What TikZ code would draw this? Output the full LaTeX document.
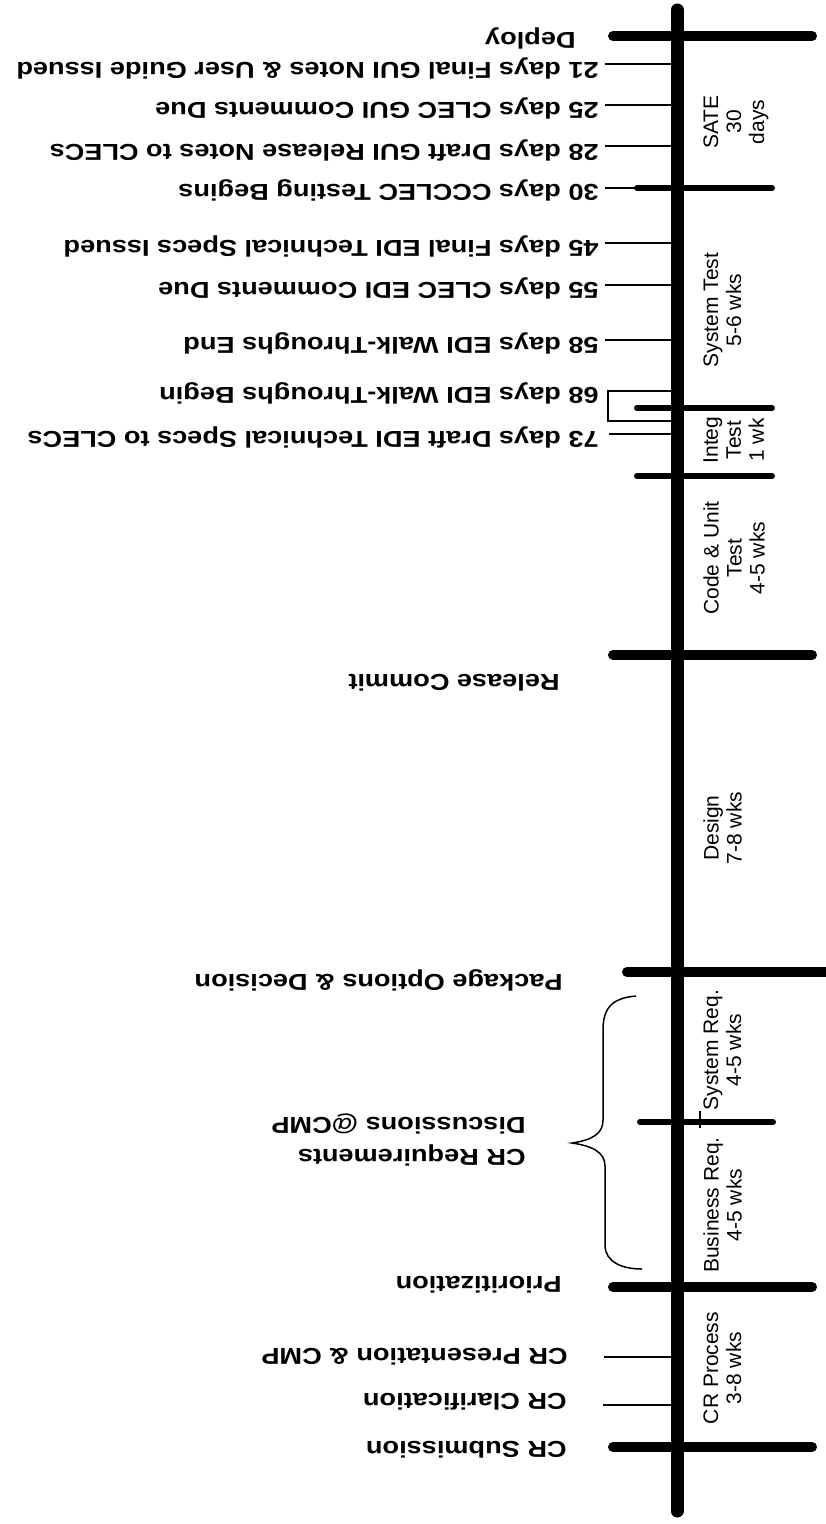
\documentclass[tikz,border=0pt]{standalone}
\usepackage{fontspec}
\setmainfont{Liberation Sans}
\newfontfamily\eventfont{Liberation Sans}[FakeStretch=1.18]
\tikzstyle{axis} = [line width=6.5pt, line cap=round]
\tikzstyle{bigtick} = [line width=5pt, line cap=round]
\tikzstyle{midtick} = [line width=3pt, line cap=round]
\tikzstyle{thintick} = [line width=0.75pt]
\tikzstyle{event} = [rotate=180, anchor=west, inner sep=0pt, align=left, font=\eventfont\bfseries\fontsize{11.5}{16}\selectfont]
\tikzstyle{phase} = [rotate=90, anchor=north, inner sep=0pt, align=center, font=\fontsize{10.5}{11.5}\selectfont]

\begin{document}
\begin{tikzpicture}[x=0.5pt, y=-0.5pt]
\useasboundingbox (0,0) rectangle (825,1524);

% time line
\coordinate (start) at (677,1511);
\coordinate (finish) at (677,10);
\draw[axis] (start) -- (finish);

% phase boundaries
\coordinate (deploy) at (677,36);
\coordinate (testbegin) at (677,188);
\coordinate (integend) at (677,408);
\coordinate (integstart) at (677,476);
\coordinate (release) at (677,655);
\coordinate (package) at (677,972);
\coordinate (sysreq) at (677,1122);
\coordinate (prio) at (677,1287);
\coordinate (submit) at (677,1447);
\draw[bigtick] (deploy) +(-64,0) -- +(135,0);
\draw[midtick] (testbegin) +(-40,0) -- +(95,0);
\draw[midtick] (integend) +(-40,0) -- +(95,0);
\draw[midtick] (integstart) +(-40,0) -- +(95,0);
\draw[bigtick] (release) +(-64,0) -- +(135,0);
\draw[bigtick] (package) +(-50,0) -- +(155,0);
\draw[midtick] (sysreq) +(-37,0) -- +(96,0);
\draw[bigtick] (prio) +(-64,0) -- +(135,0);
\draw[bigtick] (submit) +(-64,0) -- +(135,0);
\draw[thintick] (700,1111) -- (700,1128);

% milestone labels
\node[event] (deployLbl) at (576,38) {Deploy};
\node[event] (releaseLbl) at (560,683) {Release Commit};
\node[event] (packageLbl) at (563,980) {Package Options \& Decision};
\node[event] (crreqLbl) at (526,1140) {CR Requirements\\Discussions @CMP};
\node[event] (prioLbl) at (562,1285) {Prioritization};
\node[event] (submitLbl) at (567,1450) {CR Submission};

% CR steps
\coordinate (crpres) at (677,1357);
\coordinate (crclar) at (677,1405);
\node[event] (crpresLbl) at (568,1357) {CR Presentation \& CMP};
\node[event] (crclarLbl) at (567,1402) {CR Clarification};
\draw[thintick] (crpres) -- ([xshift=18pt]crpresLbl.west |- crpres);
\draw[thintick] (crclar) -- ([xshift=18pt]crclarLbl.west |- crclar);

% countdown to deploy
\coordinate (t21) at (677,64);
\coordinate (t25) at (677,105);
\coordinate (t28) at (677,146);
\coordinate (t30) at (677,188);
\coordinate (t45) at (677,243);
\coordinate (t55) at (677,285);
\coordinate (t58) at (677,340);
\coordinate (t68) at (677,391);
\coordinate (t68b) at (677,421);
\coordinate (t73) at (677,434);
\node[event] (l21) at (599,68) {21 days Final GUI Notes \& User Guide Issued};
\node[event] (l25) at (599,108) {25 days CLEC GUI Comments Due};
\node[event] (l28) at (599,150) {28 days Draft GUI Release Notes to CLECs};
\node[event] (l30) at (599,190) {30 days CCCLEC Testing Begins};
\node[event] (l45) at (599,246) {45 days Final EDI Technical Specs Issued};
\node[event] (l55) at (599,288) {55 days CLEC EDI Comments Due};
\node[event] (l58) at (599,343) {58 days EDI Walk-Throughs End};
\node[event] (l68) at (599,393) {68 days EDI Walk-Throughs Begin};
\node[event] (l73) at (599,437) {73 days Draft EDI Technical Specs to CLECs};
\draw[thintick] (t21) -- ([xshift=3pt]l21.west |- t21);
\draw[thintick] (t25) -- ([xshift=3pt]l25.west |- t25);
\draw[thintick] (t28) -- ([xshift=3pt]l28.west |- t28);
\draw[thintick] (t30) -- ([xshift=3pt]l30.west |- t30);
\draw[thintick] (t45) -- ([xshift=3pt]l45.west |- t45);
\draw[thintick] (t55) -- ([xshift=3pt]l55.west |- t55);
\draw[thintick] (t58) -- ([xshift=3pt]l58.west |- t58);
\draw[thintick] (t68) -- ([xshift=4.5pt]l68.west |- t68) -- ([xshift=4.5pt]l68.west |- t68b) -- (t68b);
\draw[thintick] (t73) -- ([xshift=5pt]l73.west |- t73);

% phases
\node[phase] (sate) at (703,122) {SATE\\30\\days};
\node[phase] (systest) at (703,310) {System Test\\5-6 wks};
\node[phase] (integ) at (703,440) {Integ\\Test\\1 wk};
\node[phase] (code) at (703,558) {Code \& Unit\\Test\\4-5 wks};
\node[phase] (design) at (703,828) {Design\\7-8 wks};
\node[phase] (sysreqPh) at (703,1050) {System Req.\\4-5 wks};
\node[phase] (busreqPh) at (703,1205) {Business Req.\\4-5 wks};
\node[phase] (crprocPh) at (703,1368) {CR Process\\3-8 wks};

% brace for requirement talks
\draw[thintick] (636,996) .. controls (612,998) and (603,1008) .. (603,1030) -- (603,1120)
  .. controls (603,1134) and (592,1140) .. (572,1143)
  .. controls (592,1146) and (605,1152) .. (605,1166) -- (605,1245)
  .. controls (605,1262) and (622,1269) .. (642,1269);
\end{tikzpicture}
\end{document}
